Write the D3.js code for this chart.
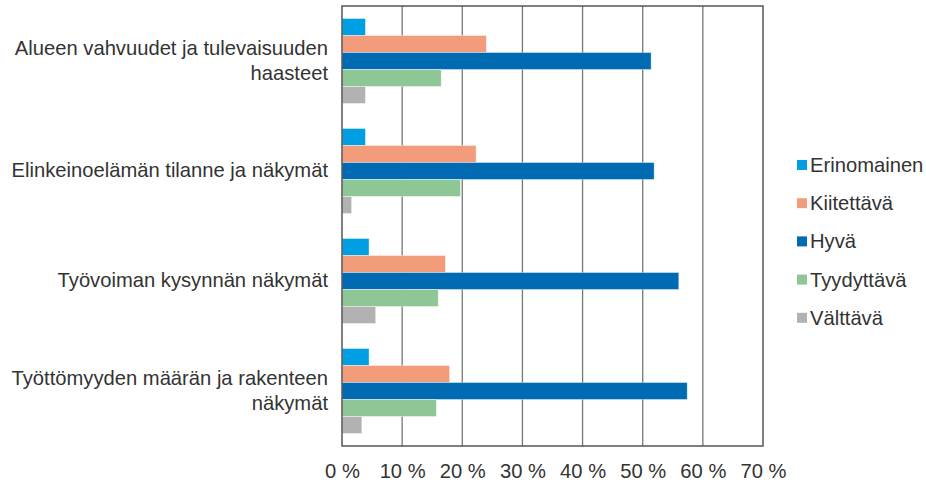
<!DOCTYPE html>
<html>
<head>
<meta charset="utf-8">
<script src="https://cdn.jsdelivr.net/npm/d3@7"></script>
<style>
  body { margin: 0; background: #fff; }
  svg { display: block; }
  text { font-family: "Liberation Sans", Arial, sans-serif; fill: #333; }
</style>
</head>
<body>
<svg id="chart" width="926" height="484"></svg>
<script>
const categories = [
  ["Alueen vahvuudet ja tulevaisuuden", "haasteet"],
  ["Elinkeinoelämän tilanne ja näkymät"],
  ["Työvoiman kysynnän näkymät"],
  ["Työttömyyden määrän ja rakenteen", "näkymät"]
];
const seriesNames = ["Erinomainen", "Kiitettävä", "Hyvä", "Tyydyttävä", "Välttävä"];
const seriesColors = ["#009fe3", "#f39c7c", "#006ab3", "#8fc695", "#b2b2b2"];
const erinomainen = [3.9, 3.9, 4.5, 4.5];
const kiitettava  = [24.0, 22.3, 17.2, 17.9];
const hyva        = [51.4, 51.9, 56.0, 57.4];
const tyydyttava  = [16.5, 19.7, 16.0, 15.7];
const valttava    = [3.9, 1.6, 5.6, 3.3];
const xTicks = [0, 10, 20, 30, 40, 50, 60, 70];

const series = [erinomainen, kiitettava, hyva, tyydyttava, valttava];

const svg = d3.select("#chart");
const margin = { left: 342, right: 163, top: 6, bottom: 38 };
const W = 926, H = 484;
const FS = "20.2px";
const x = d3.scaleLinear().domain([0, 70]).range([margin.left, W - margin.right]);
const y0 = d3.scaleBand().domain(d3.range(categories.length)).range([margin.top, H - margin.bottom]).paddingInner(0).paddingOuter(0);
const y1 = d3.scaleBand().domain(d3.range(seriesNames.length)).range([0, y0.bandwidth()]).paddingOuter(0.735).paddingInner(0);

// gridlines
svg.append("g").selectAll("line").data(xTicks.slice(1, -1)).join("line")
  .attr("x1", d => x(d)).attr("x2", d => x(d))
  .attr("y1", margin.top).attr("y2", H - margin.bottom)
  .attr("stroke", "#777").attr("stroke-width", 1.3);

// bars
const groups = svg.append("g").selectAll("g").data(categories).join("g")
  .attr("transform", (d, i) => `translate(0,${y0(i)})`);
groups.each(function (c, ci) {
  d3.select(this).selectAll("rect").data(series.map((s, si) => ({ v: s[ci], si }))).join("rect")
    .attr("x", x(0))
    .attr("y", d => y1(d.si))
    .attr("width", d => x(d.v) - x(0))
    .attr("height", y1.bandwidth())
    .attr("fill", d => seriesColors[d.si])
    .attr("stroke", "rgba(255,255,255,0.5)").attr("stroke-width", 0.8);
});

// border
svg.append("rect")
  .attr("x", margin.left).attr("y", margin.top)
  .attr("width", x(70) - x(0)).attr("height", H - margin.bottom - margin.top)
  .attr("fill", "none").attr("stroke", "#555").attr("stroke-width", 1.5);

// x axis labels
const xAxis = d3.axisBottom(x).tickValues(xTicks).tickSize(0).tickPadding(0).tickFormat(d => d + " %");
const xg = svg.append("g").attr("transform", `translate(0,${H - margin.bottom})`).call(xAxis);
xg.select(".domain").remove();
xg.selectAll("text").attr("y", 18).attr("dy", "0.71em").style("font-size", FS).style("font-family", "Liberation Sans, Arial, sans-serif").attr("fill", "#333");

// category labels
const lh = 25;
svg.append("g").selectAll("text").data(categories).join("text")
  .attr("text-anchor", "end")
  .style("font-size", FS)
  .attr("transform", (d, i) => `translate(328,${y0(i) + y0.bandwidth() / 2})`)
  .each(function (lines) {
    const t = d3.select(this);
    const n = lines.length;
    lines.forEach((ln, k) => {
      t.append("tspan").attr("x", 0).attr("y", (k - (n - 1) / 2) * lh - 1).attr("dy", "0.35em").text(ln);
    });
  });

// legend
const leg = svg.append("g").attr("transform", "translate(797,165)");
const li = leg.selectAll("g").data(seriesNames).join("g").attr("transform", (d, i) => `translate(0,${i * 38.2})`);
li.append("rect").attr("x", 0).attr("y", -5).attr("width", 10).attr("height", 10).attr("fill", (d, i) => seriesColors[i]);
li.append("text").attr("x", 13).attr("dy", "0.35em").style("font-size", FS).text(d => d);
</script>
</body>
</html>
